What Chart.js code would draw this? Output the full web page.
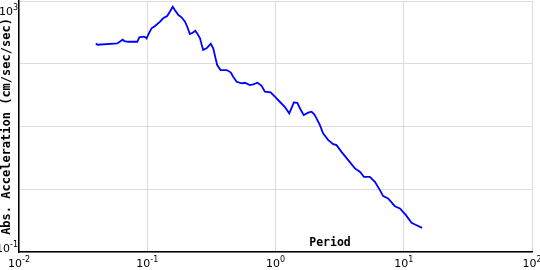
<!DOCTYPE html>
<html>
<head>
<meta charset="utf-8">
<script src="https://cdn.jsdelivr.net/npm/chart.js@4"></script>
<style>
  html, body { margin: 0; padding: 0; background: #fff; }
  #wrap { width: 540px; height: 270px; }
</style>
</head>
<body>
<div id="wrap"><canvas id="chart"></canvas></div>
<script>
// response spectrum
const periods = [0.0397, 0.041, 0.0584, 0.0643, 0.0663, 0.0711, 0.0836, 0.0867, 0.0931, 0.0972,
  0.0989, 0.103, 0.108, 0.115, 0.126, 0.133, 0.143, 0.150, 0.158, 0.164,
  0.175, 0.185, 0.197, 0.205, 0.215, 0.226, 0.237, 0.245, 0.258, 0.266,
  0.273, 0.290, 0.313, 0.327, 0.341, 0.351, 0.373, 0.416, 0.447, 0.468,
  0.498, 0.545, 0.577, 0.631, 0.670, 0.725, 0.779, 0.827, 0.916, 0.989,
  1.08, 1.18, 1.28, 1.33, 1.39, 1.48, 1.55, 1.66, 1.80, 1.91,
  2.00, 2.09, 2.22, 2.35, 2.58, 2.82, 2.99, 3.27, 3.69, 4.16,
  4.55, 4.89, 5.44, 5.96, 6.52, 6.91, 7.55, 8.53, 9.33, 10.4,
  11.5, 12.6, 13.9];
const accel = [211, 201, 211, 242, 230, 224, 224, 264, 270, 264,
  254, 305, 367, 399, 468, 530, 577, 674, 811, 718,
  598, 550, 468, 389, 298, 312, 336, 305, 254, 199,
  166, 176, 208, 176, 122, 95.3, 79.4, 79.4, 73.0, 62.1,
  51.6, 48.7, 49.8, 45.7, 46.9, 49.8, 44.6, 35.8, 35.0, 29.8,
  24.8, 20.6, 16.2, 19.5, 24.2, 23.9, 19.5, 15.2, 16.6, 17.2,
  15.8, 13.5, 10.5, 7.76, 6.07, 5.24, 5.05, 3.94, 2.91, 2.15,
  1.90, 1.58, 1.58, 1.31, 0.968, 0.777, 0.713, 0.537, 0.494, 0.386,
  0.291, 0.267, 0.242];

const xTicks = [0.01, 0.1, 1, 10, 100];
const yTicks = [0.1, 1, 10, 100, 1000];
const yLabelled = [0.1, 1000];
const xTitle = 'Period';
const yTitle = 'Abs. Acceleration (cm/sec/sec)';

const points = [];
for (let i = 0; i < periods.length; i++) {
  points.push({ x: periods[i], y: accel[i] });
}

// "10" with a raised exponent
function drawPow(ctx, v, x, y, align) {
  const exp = String(Math.round(Math.log10(v)));
  ctx.font = '11px "DejaVu Sans"';
  const w1 = ctx.measureText('10').width;
  ctx.font = '8px "DejaVu Sans"';
  const w2 = ctx.measureText(exp).width;
  let sx = x - (w1 + w2) / 2;
  if (align === 'right') sx = x - w1 - w2;
  ctx.textAlign = 'left';
  ctx.textBaseline = 'alphabetic';
  ctx.font = '11px "DejaVu Sans"';
  ctx.fillText('10', sx, y);
  ctx.font = '8px "DejaVu Sans"';
  ctx.fillText(exp, sx + w1, y - 5);
}

const labels = {
  id: 'labels',
  afterDraw(chart) {
    const ctx = chart.ctx;
    const xs = chart.scales.x, ys = chart.scales.y;
    const area = chart.chartArea;
    ctx.save();
    ctx.fillStyle = '#000';
    xTicks.forEach(v => drawPow(ctx, v, xs.getPixelForValue(v), area.bottom + 15, 'center'));
    yLabelled.forEach(v => {
      const py = ys.getPixelForValue(v);
      drawPow(ctx, v, area.left - 1, v === 1000 ? py + 14 : py, 'right');
    });
    ctx.font = 'bold 11.5px "DejaVu Sans Mono"';
    ctx.textAlign = 'center';
    ctx.fillText(xTitle, 330, area.bottom - 6);
    ctx.restore();
  }
};

new Chart(document.getElementById('chart'), {
  type: 'line',
  data: {
    datasets: [{
      data: points,
      borderColor: '#0000ff',
      borderWidth: 1.8,
      pointRadius: 0,
      fill: false,
      tension: 0
    }]
  },
  options: {
    responsive: true,
    maintainAspectRatio: false,
    animation: false,
    layout: { padding: { top: 1, right: 8, left: 0, bottom: 0 } },
    plugins: { legend: { display: false }, tooltip: { enabled: false } },
    scales: {
      x: {
        type: 'logarithmic',
        min: 0.01,
        max: 100,
        afterBuildTicks: s => { s.ticks = xTicks.map(v => ({ value: v })); },
        afterFit: s => { s.height = 18; s.paddingLeft = 0; s.paddingRight = 0; },
        ticks: { display: false },
        grid: { color: '#dcdcdc', lineWidth: 1, drawTicks: false },
        border: { color: '#000', width: 1.5 }
      },
      y: {
        type: 'logarithmic',
        min: 0.1,
        max: 1000,
        afterBuildTicks: s => { s.ticks = yTicks.map(v => ({ value: v })); },
        afterFit: s => { s.width = 19; s.paddingTop = 0; s.paddingBottom = 0; },
        ticks: { display: false },
        grid: { color: '#dcdcdc', lineWidth: 1, drawTicks: false },
        border: { color: '#000', width: 1.5 },
        title: {
          display: true,
          text: yTitle,
          color: '#000',
          padding: 0,
          font: { family: 'DejaVu Sans Mono', size: 12, weight: 'bold' }
        }
      }
    }
  },
  plugins: [labels]
});
</script>
</body>
</html>
